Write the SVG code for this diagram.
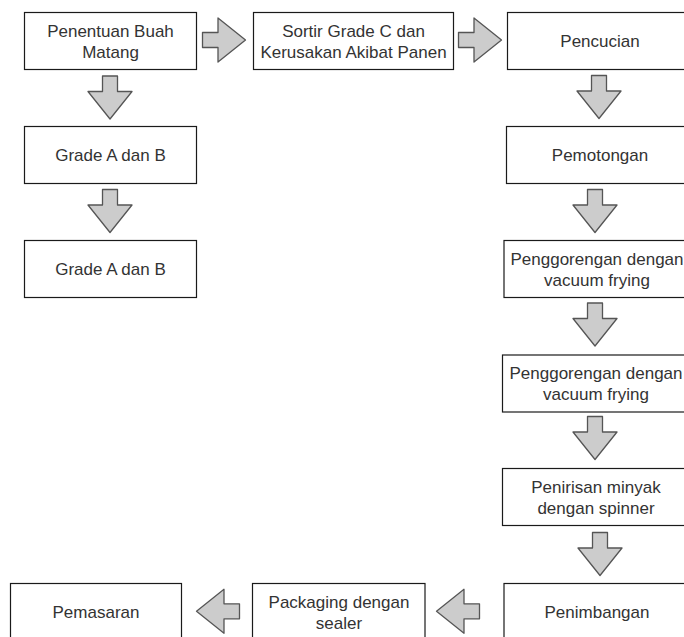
<svg xmlns="http://www.w3.org/2000/svg" xmlns:xlink="http://www.w3.org/1999/xlink" width="684" height="637" viewBox="0 0 684 637">
<style>
.box{fill:#ffffff;stroke:#1a1a1a;stroke-width:1.2}
.lbl{font-family:"Liberation Sans",Arial,sans-serif;font-size:17px;fill:#333333;text-anchor:middle}
.arr{fill:#cccccc;stroke:#555555;stroke-width:1.3;stroke-linejoin:round}
</style>
<defs>
<path id="arrow" d="M-21.5,-7.5 H-6 V-22 L21.5,0 L-6,22 V7.5 H-21.5 Z"/>
</defs>
<rect width="684" height="637" fill="#ffffff"/>
<g id="connectors">
<use xlink:href="#arrow" class="arr" transform="translate(224,40)"/>
<use xlink:href="#arrow" class="arr" transform="translate(480,40)"/>
<use xlink:href="#arrow" class="arr" transform="translate(110,97.5) rotate(90)"/>
<use xlink:href="#arrow" class="arr" transform="translate(110,211) rotate(90)"/>
<use xlink:href="#arrow" class="arr" transform="translate(599,97) rotate(90)"/>
<use xlink:href="#arrow" class="arr" transform="translate(595,211) rotate(90)"/>
<use xlink:href="#arrow" class="arr" transform="translate(595,324.5) rotate(90)"/>
<use xlink:href="#arrow" class="arr" transform="translate(595,438) rotate(90)"/>
<use xlink:href="#arrow" class="arr" transform="translate(600,554) rotate(90)"/>
<use xlink:href="#arrow" class="arr" transform="translate(218,611.3) rotate(180)"/>
<use xlink:href="#arrow" class="arr" transform="translate(458,611.3) rotate(180)"/>
</g>
<g id="n1"><rect class="box" x="24.5" y="12.5" width="172" height="57"/><text class="lbl" x="110.5" y="36.5">Penentuan Buah</text><text class="lbl" x="110.5" y="57.5">Matang</text></g>
<g id="n2"><rect class="box" x="253.5" y="12.5" width="200" height="57"/><text class="lbl" x="353.5" y="36.5">Sortir Grade C dan</text><text class="lbl" x="353.5" y="57.5">Kerusakan Akibat Panen</text></g>
<g id="n3"><rect class="box" x="507.5" y="12.5" width="185" height="57"/><text class="lbl" x="600" y="47">Pencucian</text></g>
<g id="n4"><rect class="box" x="24.5" y="126.5" width="172" height="57"/><text class="lbl" x="110.5" y="161">Grade A dan B</text></g>
<g id="n5"><rect class="box" x="24.5" y="240.5" width="172" height="57"/><text class="lbl" x="110.5" y="275">Grade A dan B</text></g>
<g id="n6"><rect class="box" x="506.5" y="126.5" width="187" height="57"/><text class="lbl" x="600" y="161">Pemotongan</text></g>
<g id="n7"><rect class="box" x="504" y="240.5" width="186" height="57"/><text class="lbl" x="597" y="264.5">Penggorengan dengan</text><text class="lbl" x="597" y="285.5">vacuum frying</text></g>
<g id="n8"><rect class="box" x="502.5" y="355" width="187" height="57"/><text class="lbl" x="596" y="379">Penggorengan dengan</text><text class="lbl" x="596" y="400">vacuum frying</text></g>
<g id="n9"><rect class="box" x="502.5" y="468.5" width="187" height="57"/><text class="lbl" x="596" y="492.5">Penirisan minyak</text><text class="lbl" x="596" y="513.5">dengan spinner</text></g>
<g id="n10"><rect class="box" x="504" y="583.5" width="186" height="57"/><text class="lbl" x="597" y="618">Penimbangan</text></g>
<g id="n11"><rect class="box" x="252.5" y="583.5" width="172.5" height="57"/><text class="lbl" x="339" y="607.5">Packaging dengan</text><text class="lbl" x="339" y="628.5">sealer</text></g>
<g id="n12"><rect class="box" x="10.5" y="583.5" width="171" height="57"/><text class="lbl" x="96" y="618">Pemasaran</text></g>
</svg>
